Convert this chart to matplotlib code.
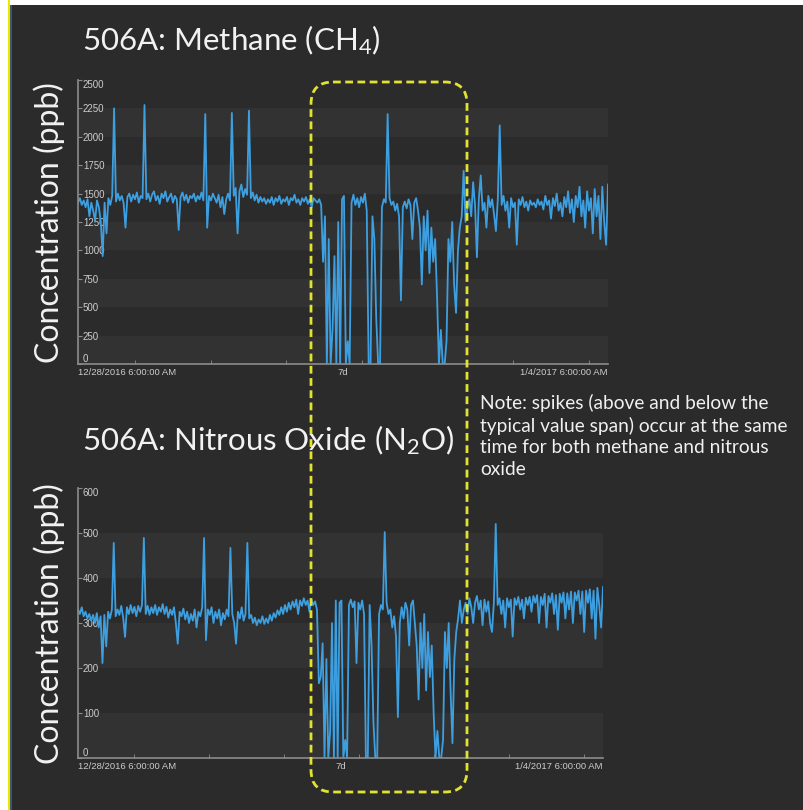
import numpy as np
import matplotlib.pyplot as plt
from matplotlib.patches import FancyBboxPatch, Rectangle

plt.rcParams['font.family'] = ['Lato', 'DejaVu Sans']
plt.rcParams['mathtext.default'] = 'regular'

# ---- data (280 samples over the 7 day window) ----
ch4 = [
    1420, 1460, 1400, 1440, 1380, 1450, 1300, 1420, 1350, 1260, 1440, 1380, 1250, 950, 1420, 1150, 1460, 1400, 1480, 2250,
    1430, 1500, 1440, 1480, 1420, 1200, 1470, 1500, 1430, 1490, 1450, 1510, 1420, 1480, 1460, 2280, 1450, 1500, 1430, 1490,
    1520, 1440, 1480, 1410, 1500, 1460, 1520, 1430, 1470, 1500, 1420, 1480, 1450, 1180, 1470, 1510, 1440, 1490, 1420, 1480,
    1460, 1500, 1430, 1480, 1450, 1510, 1440, 2200, 1200, 1480, 1440, 1500, 1460, 1420, 1490, 1380, 1470, 1320, 1450, 1500,
    1440, 2210, 1480, 1550, 1150, 1520, 1580, 1470, 1540, 1490, 2230, 1460, 1510, 1440, 1490, 1420, 1470, 1430, 1460, 1410,
    1450, 1420, 1470, 1400, 1460, 1430, 1480, 1410, 1450, 1430, 1470, 1400, 1460, 1440, 1490, 1420, 1450, 1400, 1460, 1430,
    1470, 1410, 1450, 1380, 1460, 1440, 1420, 1450, 1400, 900, 1300, 0, 1100, 0, 300, 950, 0, 1250, 0, 1450,
    1480, 0, 200, 0, 1420, 1490, 1400, 1460, 1380, 1470, 1420, 1500, 1350, 0, 0, 1300, 1100, 400, 0, 0,
    1380, 1450, 1420, 2200, 1460, 1400, 1430, 1350, 1410, 1300, 560, 1380, 1430, 1370, 1450, 1400, 1100, 1420, 1460, 1350,
    1200, 700, 1300, 1000, 1350, 800, 1200, 900, 1100, 600, 0, 300, 0, 0, 200, 1100, 900, 1250, 700, 450,
    1000, 1200, 1300, 1700, 1250, 1380, 1450, 1300, 1600, 1400, 940, 1450, 1660, 1350, 1420, 1200, 1480, 1380, 1450, 1320,
    1170, 1450, 2100, 1400, 1480, 1350, 1430, 1200, 1460, 1380, 1420, 1050, 1450, 1400, 1470, 1380, 1430, 1350, 1440, 1400,
    1420, 1380, 1450, 1400, 1430, 1360, 1480, 1400, 1440, 1280, 1460, 1390, 1500, 1350, 1420, 1300, 1470, 1380, 1520, 1330,
    1450, 1250, 1480, 1380, 1560, 1300, 1440, 1200, 1520, 1350, 1460, 1150, 1540, 1300, 1480, 1100, 1560, 1250, 1050, 1580,
]
n2o = [
    330, 320, 335, 315, 325, 310, 320, 305, 318, 300, 322, 290, 315, 211, 318, 248, 325, 310, 330, 478,
    315, 330, 318, 338, 312, 269, 335, 320, 340, 322, 336, 315, 338, 325, 340, 489, 320, 338, 318, 335,
    322, 340, 318, 335, 325, 342, 320, 336, 312, 330, 318, 335, 300, 254, 325, 315, 332, 308, 325, 300,
    320, 305, 330, 290, 325, 315, 335, 489, 262, 330, 318, 335, 300, 325, 310, 330, 295, 322, 308, 330,
    315, 467, 320, 300, 254, 325, 310, 335, 305, 320, 478, 310, 318, 300, 312, 295, 308, 300, 315, 298,
    310, 300, 318, 305, 322, 312, 328, 318, 335, 320, 340, 325, 345, 330, 348, 335, 352, 320, 350, 338,
    355, 340, 350, 325, 352, 340, 348, 330, 166, 180, 255, 0, 220, 0, 60, 300, 0, 350, 0, 345,
    350, 0, 40, 0, 340, 352, 335, 348, 211, 345, 330, 350, 320, 0, 0, 340, 250, 80, 0, 0,
    320, 340, 330, 502, 345, 320, 330, 290, 315, 270, 91, 300, 335, 310, 345, 330, 250, 340, 350, 300,
    250, 130, 300, 200, 320, 150, 280, 180, 250, 100, 0, 60, 0, 0, 40, 280, 200, 300, 150, 33,
    220, 280, 310, 350, 300, 330, 345, 320, 355, 335, 300, 345, 360, 330, 350, 295, 352, 325, 348, 300,
    280, 345, 520, 340, 355, 320, 350, 290, 355, 335, 352, 270, 355, 340, 358, 330, 352, 310, 356, 340,
    358, 325, 360, 345, 362, 300, 358, 340, 365, 290, 360, 345, 366, 320, 362, 285, 365, 345, 368, 310,
    366, 330, 370, 300, 368, 350, 372, 320, 370, 280, 372, 345, 375, 310, 372, 265, 378, 340, 290, 380,
]
days = np.linspace(0, 7, len(ch4))

ch4_ticks = list(range(0, 2501, 250))
n2o_ticks = list(range(0, 601, 100))
x_labels = ['12/28/2016 6:00:00 AM', '7d', '1/4/2017 6:00:00 AM']
midnights = [0.75 + k for k in range(7)]

BG = '#2b2b2b'
BAND = '#323232'
LINE = '#3d9fe0'
AXIS = '#8c8c8c'
TXT = '#cccccc'
W, H = 804, 810

fig = plt.figure(figsize=(W / 100, H / 100), dpi=100, facecolor=BG)


def px_axes(left, top, right, bottom):
    return fig.add_axes([left / W, 1 - bottom / H, (right - left) / W, (bottom - top) / H])


def draw_panel(ax, values, ticks):
    ax.set_facecolor('none')
    step = ticks[1] - ticks[0]
    for lo in ticks[:-1:2]:
        ax.axhspan(lo, lo + step, color=BAND, lw=0, zorder=0)
    ax.plot(days, values, color=LINE, lw=1.3, zorder=2)
    ax.set_xlim(0, 7)
    ax.set_ylim(0, ticks[-1])
    for s in ['top', 'right']:
        ax.spines[s].set_visible(False)
    for s in ['left', 'bottom']:
        ax.spines[s].set_color(AXIS)
        ax.spines[s].set_linewidth(1.2)
    ax.set_yticks(ticks)
    ax.set_yticklabels([str(t) for t in ticks], fontsize=7, color=TXT, family='Liberation Sans')
    ylbls = ax.get_yticklabels()
    for lbl in ylbls:
        lbl.set_ha('left')
    ylbls[0].set_va('bottom')
    ylbls[-1].set_va('top')
    ax.tick_params(axis='y', direction='in', length=3, pad=-3.5, color=AXIS)
    ax.set_xticks([0, 3.5, 7])
    ax.set_xticklabels(x_labels, fontsize=6.8, color=TXT, family='Liberation Sans')
    for lbl, ha in zip(ax.get_xticklabels(), ['left', 'center', 'right']):
        lbl.set_ha(ha)
    ax.tick_params(axis='x', length=0, pad=3)
    ax.set_xticks(midnights, minor=True)
    ax.tick_params(axis='x', which='minor', direction='in', length=3, color=AXIS)


ax1 = px_axes(78, 80, 608, 364)
draw_panel(ax1, ch4, ch4_ticks)
ax2 = px_axes(78, 488, 603, 758)
draw_panel(ax2, n2o, n2o_ticks)

# overlay in pixel units for titles, note, border and highlight box
ov = fig.add_axes([0, 0, 1, 1])
ov.set_xlim(0, W)
ov.set_ylim(H, 0)
ov.axis('off')
ov.patch.set_alpha(0)
ov.set_zorder(10)

ov.add_patch(Rectangle((0, 0), W, 5, color='white', lw=0))
ov.add_patch(Rectangle((0, 0), 8, H, color='white', lw=0))
ov.add_patch(Rectangle((8, 0), 2, H, color='#e8e800', lw=0))
ov.add_patch(Rectangle((10, 5), 2, H, color='#3e5870', lw=0))

ov.text(82, 40, '506A: Methane (CH$_4$)', fontsize=22.5, color='#f2f2f2', va='center')
ov.text(82, 440, '506A: Nitrous Oxide (N$_2$O)', fontsize=22.5, color='#f2f2f2', va='center')
ov.text(49, 223, 'Concentration (ppb)', rotation=90, fontsize=23, color='#f2f2f2', ha='center', va='center')
ov.text(49, 624, 'Concentration (ppb)', rotation=90, fontsize=23, color='#f2f2f2', ha='center', va='center')
ov.text(480, 394, 'Note: spikes (above and below the\ntypical value span) occur at the same\n'
        'time for both methane and nitrous\noxide', fontsize=13.8, color='#f0f0f0',
        va='top', linespacing=1.32)

ov.add_patch(FancyBboxPatch((311, 82), 156, 710, boxstyle='round,pad=0,rounding_size=22',
                            fill=False, ec='#e2e232', lw=2, ls=(0, (2.8, 1.6))))

fig.savefig('out.png', dpi=100, facecolor=BG)
